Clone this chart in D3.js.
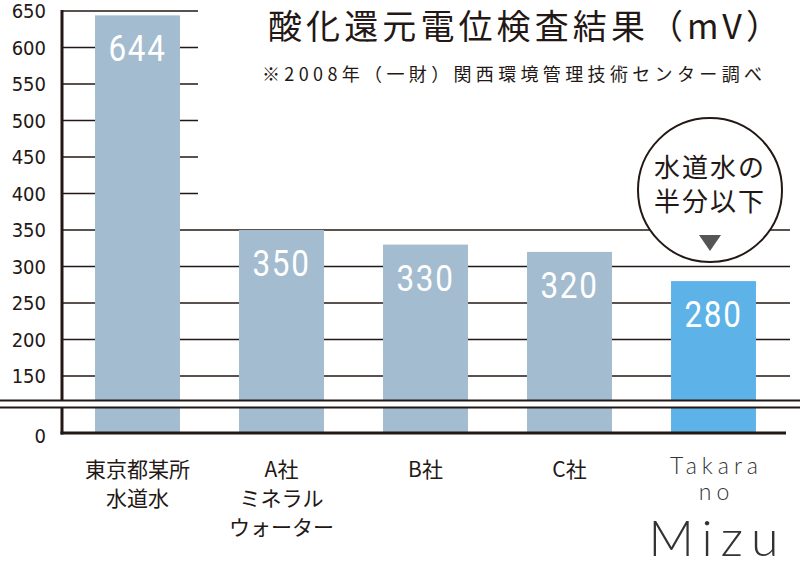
<!DOCTYPE html>
<html><head><meta charset="utf-8">
<script src="https://cdn.jsdelivr.net/npm/d3@7"></script>
<style>body{margin:0;background:#fff}text{font-family:"Noto Sans CJK JP","Noto Sans",sans-serif}</style>
</head><body>
<svg id="chart" width="800" height="569"></svg>
<script>
// chart values
const categories = ["tokyo", "A", "B", "C", "takara"];
const values = [644, 350, 330, 320, 280];
const labelLines = [["東京都某所", "水道水"], ["A社", "ミネラル", "ウォーター"], ["B社"], ["C社"], []];
const yTicks = [650, 600, 550, 500, 450, 400, 350, 300, 250, 200, 150, 0];

const svg = d3.select("#chart");
const axisX = 62, baseY = 433;
const narrow = "'DejaVu Sans Condensed','Roboto',sans-serif";

// broken scale: 0..100 squeezed, 100..650 linear
const y = d3.scaleLinear().domain([0, 100, 650]).range([baseY, 412.5, 11]);
const x = d3.scaleBand().domain(categories).range([65.5, 785.5])
  .paddingInner(0.41).paddingOuter(0.205);

// gridlines
yTicks.filter(t => t > 0).forEach(t => {
  svg.append("line").attr("x1", axisX).attr("x2", t >= 400 ? 198 : 790)
    .attr("y1", y(t)).attr("y2", y(t)).attr("stroke", "#231815").attr("stroke-width", 1.5);
});

// bars
svg.selectAll("rect.bar").data(values).join("rect")
  .attr("x", (d, i) => x(categories[i])).attr("width", x.bandwidth())
  .attr("y", d => y(d)).attr("height", d => baseY - y(d))
  .attr("fill", (d, i) => i === 4 ? "#5db3e8" : "#a3bccf");

svg.selectAll("text.val").data(values).join("text")
  .each(function (d, i) {
    const cx = x(categories[i]) + x.bandwidth() / 2;
    d3.select(this).attr("transform", `translate(${cx},${y(d) + 46}) scale(0.85,1)`);
  })
  .attr("text-anchor", "middle").attr("fill", "#fff").attr("font-size", 37)
  .attr("letter-spacing", 2).style("font-family", "Roboto").attr("font-weight", 400).text(d => d);

// break lines
svg.append("rect").attr("x", 0).attr("y", 401).attr("width", 800).attr("height", 6).attr("fill", "#fff");
[400.5, 407.5].forEach(v => svg.append("line").attr("x1", 0).attr("x2", 800)
  .attr("y1", v).attr("y2", v).attr("stroke", "#231815").attr("stroke-width", 2));

// axes lines
svg.append("line").attr("x1", axisX).attr("x2", axisX).attr("y1", 10).attr("y2", 400)
  .attr("stroke", "#231815").attr("stroke-width", 3);
svg.append("line").attr("x1", axisX).attr("x2", axisX).attr("y1", 408).attr("y2", baseY + 1.5)
  .attr("stroke", "#231815").attr("stroke-width", 3);
svg.append("line").attr("x1", axisX - 1.5).attr("x2", 786).attr("y1", baseY).attr("y2", baseY)
  .attr("stroke", "#231815").attr("stroke-width", 3);

// y tick labels
svg.selectAll("text.yt").data(yTicks).join("text")
  .attr("x", 46).attr("y", t => t === 0 ? 443 : y(t) + 7).attr("text-anchor", "end")
  .attr("font-size", 20).attr("fill", "#231815").style("font-family", narrow)
  .text(t => t);

// x labels
labelLines.forEach((lines, i) => {
  lines.forEach((s, j) => svg.append("text")
    .attr("x", x(categories[i]) + x.bandwidth() / 2).attr("y", 477 + j * 29)
    .attr("text-anchor", "middle").attr("font-size", 21).attr("fill", "#231815").text(s));
});
const cx = x("takara") + x.bandwidth() / 2;
svg.append("text").attr("x", cx + 3).attr("y", 474).attr("text-anchor", "middle")
  .attr("font-size", 23).attr("letter-spacing", 5).attr("fill", "#333")
  .style("font-family", "Lato").attr("font-weight", 300).text("Takara");
svg.append("text").attr("x", cx + 3).attr("y", 500).attr("text-anchor", "middle")
  .attr("font-size", 23).attr("letter-spacing", 5).attr("fill", "#333")
  .style("font-family", "Lato").attr("font-weight", 300).text("no");
svg.append("text").attr("x", cx + 4).attr("y", 556).attr("text-anchor", "middle")
  .attr("font-size", 50).attr("letter-spacing", 8).attr("fill", "#333")
  .style("font-family", "Lato").attr("font-weight", 300).text("Mizu");

// title
svg.append("text").attr("x", 268).attr("y", 39).attr("font-size", 34).attr("fill", "#231815")
  .attr("textLength", 512).attr("lengthAdjust", "spacing").text("酸化還元電位検査結果（mV）");
svg.append("text").attr("x", 262).attr("y", 81).attr("font-size", 18).attr("fill", "#231815")
  .attr("textLength", 500).attr("lengthAdjust", "spacing").text("※2008年（一財）関西環境管理技術センター調べ");

// callout
svg.append("circle").attr("cx", 710).attr("cy", 190).attr("r", 72)
  .attr("fill", "#fff").attr("stroke", "#231815").attr("stroke-width", 2);
["水道水の", "半分以下"].forEach((s, j) => svg.append("text").attr("x", 710).attr("y", 177 + j * 34)
  .attr("text-anchor", "middle").attr("font-size", 26).attr("letter-spacing", 2).attr("fill", "#231815").text(s));
svg.append("path").attr("d", "M699,235 L721,235 L710,251 Z").attr("fill", "#555");
</script>
</body></html>
